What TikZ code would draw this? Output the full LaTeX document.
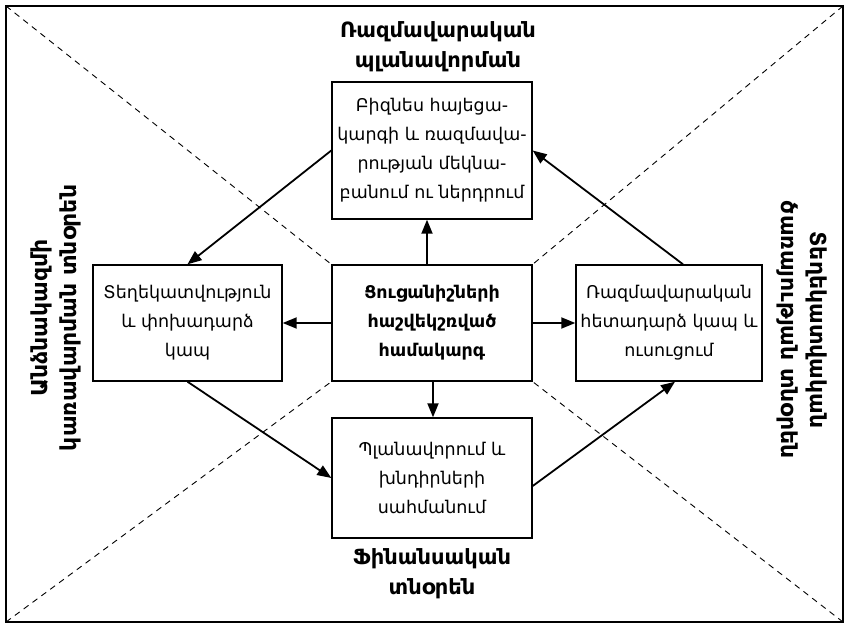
\documentclass[tikz,border=0pt]{standalone}
\usepackage{fontspec}
\setmainfont{DejaVu Sans}
\usetikzlibrary{arrows.meta}
\begin{document}
\begin{tikzpicture}[x=1pt, y=1pt,
    box/.style={draw, line width=1.4pt, fill=white, align=center, inner sep=0pt,
        font=\fontsize{17.5}{29}\selectfont},
    heading/.style={align=center, font=\fontsize{21}{30}\selectfont\bfseries},
    link/.style={line width=1.8pt, -{Triangle[length=14pt,width=11pt]}},
    guide/.style={line width=0.9pt, dash pattern=on 6pt off 5pt}]
    \useasboundingbox (0,0) rectangle (849,630);
    \coordinate (TL) at (6,624);
    \coordinate (TR) at (843,624);
    \coordinate (BL) at (6,8);
    \coordinate (BR) at (843,8);

    \node [box, minimum width=200pt, minimum height=137pt] (vision) at (432,479.5)
        {Բիզնես հայեցա-\\կարգի և ռազմավա-\\րության մեկնա-\\բանում ու ներդրում};
    \node [box, minimum width=189pt, minimum height=116pt] (info) at (187.5,307)
        {Տեղեկատվություն\\և փոխադարձ\\կապ};
    \node [box, minimum width=200pt, minimum height=116pt, font=\fontsize{17.5}{29}\selectfont\bfseries] (hub) at (432,307)
        {Ցուցանիշների\\հաշվեկշռված\\համակարգ};
    \node [box, minimum width=186pt, minimum height=116pt] (feedback) at (669,307)
        {Ռազմավարական\\հետադարձ կապ և\\ուսուցում};
    \node [box, minimum width=200pt, minimum height=120pt] (plan) at (432,152)
        {Պլանավորում և\\խնդիրների\\սահմանում};

    \node [heading] (strategy) at (438,583) {Ռազմավարական\\պլանավորման};
    \node [heading] (finance) at (432,56) {Ֆինանսական\\տնօրեն};
    \node [heading, rotate=90, font=\fontsize{22}{29}\selectfont\bfseries] (staff) at (56,312) {Անձնակազմի\\կառավարման տնօրեն};
    \node [heading, rotate=-90, font=\fontsize{22}{29}\selectfont\bfseries] (itdir) at (802,300) {Տեղեկատվական\\ծառայության տնօրեն};

    \draw [guide] (TL) -- (hub.north west);
    \draw [guide] (TR) -- (hub.north east);
    \draw [guide] (BL) -- (hub.south west);
    \draw [guide] (BR) -- (hub.south east);
    \draw [line width=2.8pt] (TL) rectangle (BR);

    \draw [link] ([xshift=-5pt]hub.north) -- ([xshift=-5pt]vision.south);
    \draw [link] ([xshift=1pt]hub.south) -- ([xshift=1pt]plan.north);
    \draw [link] (hub.west) -- (info.east);
    \draw [link] (hub.east) -- (feedback.west);
    \draw [link] (vision.west) -- (info.north);
    \draw [link] (info.south) -- (plan.west);
    \draw [link] ([yshift=-8pt]plan.east) -- ([xshift=6pt]feedback.south);
    \draw [link] ([xshift=14pt]feedback.north) -- (vision.east);
\end{tikzpicture}
\end{document}
